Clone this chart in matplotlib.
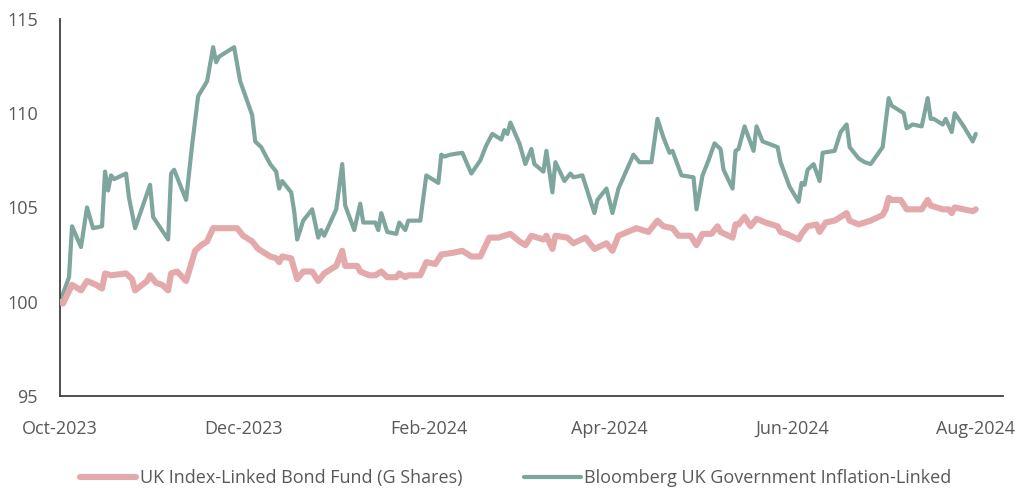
import matplotlib
matplotlib.use("Agg")
import matplotlib.pyplot as plt
import matplotlib.dates as mdates
import pandas as pd

# ---- data (days since 1 Oct 2023, index value) ----
start_date = "2023-10-01"

fund_days = [0, 1, 4, 7, 9, 12, 14, 15, 17, 22, 24, 25, 29, 30, 32, 34, 36, 37, 39, 42,
             45, 47, 49, 51, 59, 61, 64, 66, 70, 72, 73, 74, 77, 79, 81, 84, 86, 88, 92, 94,
             95, 99, 100, 103, 105, 107, 109, 112, 113, 115, 116, 120, 122, 125, 127, 131, 134, 137, 140, 143,
             146, 148, 150, 153, 155, 157, 161, 162, 164, 165, 169, 171, 175, 178, 182, 184, 186, 192, 196, 199,
             201, 204, 206, 210, 212, 214, 217, 219, 220, 224, 225, 226, 228, 230, 232, 235, 239, 240, 242, 246,
             247, 249, 252, 253, 255, 258, 260, 262, 263, 266, 268, 270, 274, 275, 276, 277, 280, 282, 284, 287,
             289, 290, 294, 296, 297, 298, 301, 304, 305]
fund_values = [100.0, 99.9, 100.9, 100.6, 101.1, 100.9, 100.7, 101.5, 101.4, 101.5, 101.2, 100.6, 101.1, 101.4, 101.0, 100.9, 100.6, 101.5, 101.6, 101.1,
               102.7, 103.0, 103.2, 103.9, 103.9, 103.5, 103.2, 102.8, 102.4, 102.3, 102.1, 102.4, 102.3, 101.2, 101.6, 101.6, 101.1, 101.5, 101.9, 102.7,
               101.9, 101.9, 101.6, 101.4, 101.4, 101.6, 101.3, 101.3, 101.5, 101.3, 101.4, 101.4, 102.1, 102.0, 102.5, 102.6, 102.7, 102.4, 102.4, 103.4,
               103.4, 103.5, 103.6, 103.2, 103.0, 103.5, 103.3, 103.5, 102.8, 103.5, 103.4, 103.1, 103.4, 102.8, 103.1, 102.7, 103.5, 103.9, 103.7, 104.3,
               104.0, 103.9, 103.5, 103.5, 103.0, 103.6, 103.6, 104.0, 103.7, 103.4, 104.1, 104.1, 104.5, 104.0, 104.4, 104.2, 104.0, 103.7, 103.6, 103.3,
               103.6, 104.0, 104.1, 103.7, 104.2, 104.3, 104.5, 104.7, 104.3, 104.1, 104.2, 104.3, 104.6, 104.9, 105.5, 105.4, 105.4, 104.9, 104.9, 104.9,
               105.4, 105.1, 104.9, 104.9, 104.7, 105.0, 104.9, 104.8, 104.9]

index_days = [0, 3, 4, 7, 9, 11, 14, 15, 16, 17, 18, 22, 23, 25, 30, 31, 36, 37, 38, 42,
              44, 46, 49, 51, 52, 53, 58, 60, 64, 65, 67, 70, 72, 73, 74, 77, 78, 79, 81, 84,
              86, 87, 88, 92, 94, 95, 98, 100, 101, 105, 106, 107, 109, 112, 113, 115, 116, 120, 122, 126,
              127, 128, 130, 134, 137, 140, 142, 144, 147, 148, 149, 150, 153, 155, 157, 158, 161, 162, 164, 165,
              168, 170, 171, 174, 178, 179, 182, 184, 186, 191, 193, 197, 199, 201, 203, 204, 207, 211, 212, 214,
              216, 218, 220, 221, 224, 225, 226, 228, 231, 232, 234, 239, 240, 243, 246, 247, 248, 249, 251, 253,
              254, 258, 260, 262, 263, 266, 268, 270, 274, 276, 277, 281, 282, 284, 287, 289, 290, 291, 294, 295,
              297, 298, 301, 304, 305]
index_values = [100.0, 101.3, 104.0, 102.9, 105.0, 103.9, 104.0, 106.9, 105.9, 106.7, 106.5, 106.8, 105.5, 103.9, 106.2, 104.5, 103.3, 106.8, 107.0, 105.4,
                108.3, 110.9, 111.7, 113.5, 112.7, 113.0, 113.5, 111.7, 109.9, 108.5, 108.2, 107.3, 106.9, 106.0, 106.4, 105.8, 104.8, 103.3, 104.3, 104.9,
                103.4, 103.8, 103.5, 104.9, 107.3, 105.1, 103.8, 105.2, 104.2, 104.2, 103.8, 104.7, 103.7, 103.6, 104.2, 103.8, 104.3, 104.3, 106.7, 106.3,
                107.8, 107.7, 107.8, 107.9, 106.8, 107.5, 108.3, 108.9, 108.6, 109.1, 108.9, 109.5, 108.4, 107.3, 108.1, 107.3, 106.9, 108.0, 105.8, 107.4,
                106.4, 106.8, 106.6, 106.7, 104.7, 105.4, 106.0, 104.7, 106.0, 107.8, 107.4, 107.4, 109.7, 108.7, 107.9, 108.0, 106.7, 106.6, 104.9, 106.7,
                107.5, 108.4, 108.1, 107.0, 106.0, 108.0, 108.1, 109.3, 108.0, 109.3, 108.5, 108.2, 107.4, 106.1, 105.3, 106.3, 106.2, 107.0, 107.3, 106.4,
                107.9, 108.0, 109.0, 109.4, 108.2, 107.6, 107.4, 107.3, 108.2, 110.8, 110.4, 110.0, 109.2, 109.4, 109.3, 110.8, 109.7, 109.7, 109.4, 109.7,
                109.0, 110.0, 109.3, 108.5, 108.9]

series_labels = ["UK Index-Linked Bond Fund (G Shares)", "Bloomberg UK Government Inflation-Linked"]
tick_dates = ["2023-10-01", "2023-12-01", "2024-02-01", "2024-04-01", "2024-06-01", "2024-08-01"]
y_ticks = [95, 100, 105, 110, 115]

# ---- build ----
base = pd.Timestamp(start_date)
fund_x = base + pd.to_timedelta(fund_days, unit="D")
index_x = base + pd.to_timedelta(index_days, unit="D")

plt.rcParams["font.family"] = ["Open Sans", "DejaVu Sans"]
text_color = "#595959"

fig = plt.figure(figsize=(10.17, 4.91), dpi=100)
ax = fig.add_axes([0.059, 0.1935, 0.927, 0.768])

ax.plot(fund_x, fund_values, color="#E4A9AB", lw=4.4, solid_capstyle="round",
        solid_joinstyle="round", label=series_labels[0], zorder=3)
ax.plot(index_x, index_values, color="#7FA69E", lw=3.0, solid_capstyle="round",
        solid_joinstyle="round", label=series_labels[1], zorder=2)

ax.set_ylim(95, 115)
ax.set_yticks(y_ticks)
ax.set_xlim(base, base + pd.Timedelta(days=314))
ax.set_xticks(pd.to_datetime(tick_dates))
ax.xaxis.set_major_formatter(mdates.DateFormatter("%b-%Y"))

for s in ["top", "right"]:
    ax.spines[s].set_visible(False)
for s in ["left", "bottom"]:
    ax.spines[s].set_color("#404040")
    ax.spines[s].set_linewidth(1.3)

ax.tick_params(axis="both", length=0, labelsize=13, colors=text_color)
ax.tick_params(axis="y", pad=16)
ax.tick_params(axis="x", pad=17)

leg = fig.legend(loc="center", bbox_to_anchor=(0.507, 0.026), ncol=2, frameon=False,
                 fontsize=13, handlelength=3.15, handletextpad=0.2, columnspacing=3.4,
                 labelcolor=text_color)

fig.savefig("out.png", dpi=100)
